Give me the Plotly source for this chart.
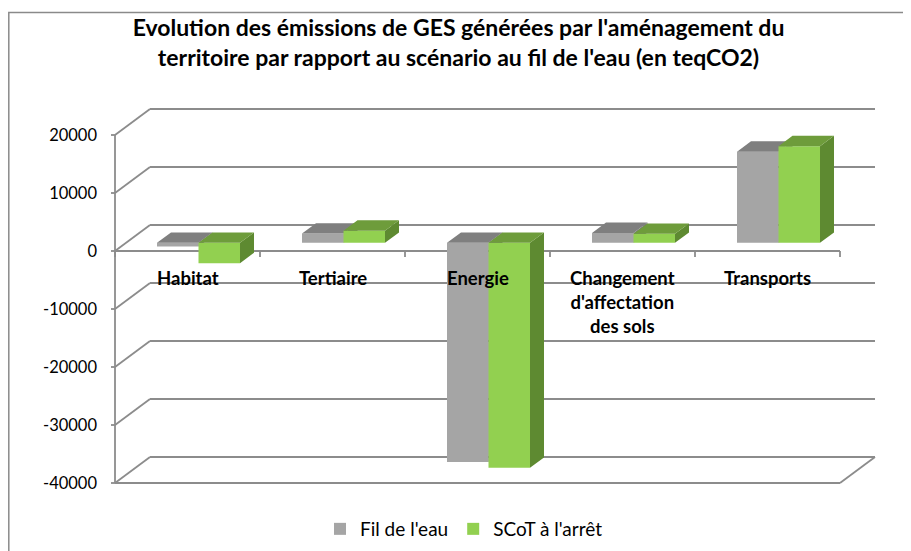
import plotly.graph_objects as go

# ---------------- data ----------------
categories = ["Habitat", "Tertiaire", "Energie",
              "Changement<br>d'affectation<br>des sols", "Transports"]
series_names = ["Fil de l'eau", "SCoT à l'arrêt"]
fil_de_leau = [-650, 1600, -37800, 1700, 15700]
scot_arret = [-3500, 2100, -38800, 1550, 16650]
y_ticks = [20000, 10000, 0, -10000, -20000, -30000, -40000]

title_text = ("Evolution des émissions de GES générées par l'aménagement du<br>"
              "territoire par rapport au scénario au fil de l'eau (en teqCO2)")

# ---------------- geometry (pixels, page coordinates) ----------------
W, H = 911, 551
PAGE = 8  # default body margin of the html page
front_left_px = 115 - PAGE
slot_px = 145
px_per_val = 0.0058
zero_px = 251 - PAGE
wall_dx_px, wall_dy_px = 35, 26
plot_l, plot_r, plot_t, plot_b = 106 - PAGE, 880 - PAGE, 104 - PAGE, 489 - PAGE
bar_w_px = 41.5
bar_front_px = 11     # depth offset of bar front face (x px)
bar_depth_px = 14     # depth of bar (x px)

n = len(categories)
xmin = -0.5 - (front_left_px - plot_l) / slot_px
xmax = -0.5 + (plot_r - front_left_px) / slot_px
ymax = (zero_px - plot_t) / px_per_val
ymin = -(plot_b - zero_px) / px_per_val

Dx = wall_dx_px / slot_px
Dy = wall_dy_px / px_per_val
ratio = wall_dy_px / wall_dx_px
bw = bar_w_px / slot_px
bfx = bar_front_px / slot_px
bfy = bar_front_px * ratio / px_per_val
bdx = bar_depth_px / slot_px
bdy = bar_depth_px * ratio / px_per_val

colors = {
    "front": ["#a5a5a5", "#92d050"],
    "top": ["#7f7f7f", "#6e9c3b"],
    "side": ["#7a7a7a", "#5e8a31"],
}

fig = go.Figure()

series = [fil_de_leau, scot_arret]
for s, vals in enumerate(series):
    xa = "x" if s == 0 else "x2"
    ya = "y" if s == 0 else "y2"
    lefts = [i + bfx - bw + s * bw for i in range(n)]
    centers = [l + bw / 2 for l in lefts]
    fig.add_trace(go.Bar(
        x=centers, y=vals, base=[bfy] * n, width=[bw] * n,
        marker=dict(color=colors["front"][s], line=dict(width=0)),
        name=series_names[s], xaxis=xa, yaxis=ya, hoverinfo="skip",
    ))
    tx, ty, sx, sy = [], [], [], []
    for l, v in zip(lefts, vals):
        r = l + bw
        top = bfy + max(v, 0)
        bot = bfy + min(v, 0)
        tx += [l, r, r + bdx, l + bdx, l, None]
        ty += [top, top, top + bdy, top + bdy, top, None]
        sx += [r, r, r + bdx, r + bdx, r, None]
        sy += [bot, top, top + bdy, bot + bdy, bot, None]
    fig.add_trace(go.Scatter(x=sx, y=sy, mode="lines", fill="toself",
                             fillcolor=colors["side"][s], line=dict(width=0),
                             showlegend=False, hoverinfo="skip", xaxis=xa, yaxis=ya))
    fig.add_trace(go.Scatter(x=tx, y=ty, mode="lines", fill="toself",
                             fillcolor=colors["top"][s], line=dict(width=0),
                             showlegend=False, hoverinfo="skip", xaxis=xa, yaxis=ya))

# ---------------- walls / gridlines ----------------
grid_col = "#8c8c8c"
lw = 1.8
shapes = []
def ln(x0, y0, x1, y1, col=grid_col, w=lw):
    shapes.append(dict(type="line", xref="x", yref="y", x0=x0, y0=y0, x1=x1, y1=y1,
                       line=dict(color=col, width=w), layer="below"))

x_front_l = -0.5
x_front_r = n - 0.5
tick_out = 4 / slot_px
for v in y_ticks:
    ln(x_front_l + Dx, v + Dy, x_front_r + Dx, v + Dy)        # back wall gridline
    ln(x_front_l, v, x_front_l + Dx, v + Dy)                  # side wall diagonal
    ln(x_front_l - tick_out, v, x_front_l, v)                 # tick mark
ln(x_front_l, min(y_ticks), x_front_l, max(y_ticks))          # front vertical axis
ln(x_front_l, min(y_ticks), x_front_r, min(y_ticks))          # floor front edge
ln(x_front_r, min(y_ticks), x_front_r + Dx, min(y_ticks) + Dy)  # floor right edge
ln(x_front_l, 0, x_front_r, 0)                                # category axis
cat_tick = 6 / px_per_val
for k in range(n + 1):
    ln(x_front_l + k, 0, x_front_l + k, -cat_tick)

# chart-area border
pw, ph = plot_r - plot_l, plot_b - plot_t
shapes.append(dict(type="rect", xref="paper", yref="paper",
                   x0=(0.8 - plot_l) / pw, y0=-0.3, x1=1.3,
                   y1=1 + (plot_t - (12.5 - PAGE)) / ph,
                   line=dict(color="#8a8a8a", width=1.5), layer="below"))

# ---------------- category labels ----------------
annotations = []
for i, c in enumerate(categories):
    annotations.append(dict(x=i, y=0, xref="x", yref="y", text="<b>" + c + "</b>",
                            showarrow=False, yanchor="top", xanchor="center",
                            yshift=-14, align="center",
                            font=dict(family="Lato", size=18.5, color="#000000")))

fig.update_layout(
    width=W, height=H,
    margin=dict(l=plot_l, r=W - plot_r, t=plot_t, b=H - plot_b, pad=0),
    paper_bgcolor="white", plot_bgcolor="rgba(0,0,0,0)",
    barmode="overlay",
    font=dict(family="Lato", size=17, color="#000000"),
    title=dict(text="<b>" + title_text + "</b>", x=0.5 - (PAGE / 2 + 1) / W, xanchor="center",
               xref="container", y=1 - (36 - PAGE) / H, yanchor="middle", yref="container",
               font=dict(family="Lato", size=23, color="#000000")),
    xaxis=dict(range=[xmin, xmax], visible=False, fixedrange=True),
    xaxis2=dict(range=[xmin, xmax], visible=False, overlaying="x", matches="x"),
    yaxis=dict(range=[ymin, ymax], tickvals=y_ticks, ticktext=[str(v) for v in y_ticks],
               showgrid=False, zeroline=False, showline=False, ticks="",
               ticklabelstandoff=8, tickfont=dict(family="Lato", size=16.5, color="#000000")),
    yaxis2=dict(range=[ymin, ymax], visible=False, overlaying="y", matches="y",
                showgrid=False, zeroline=False),
    legend=dict(orientation="h", x=(464 - PAGE) / W, xanchor="center", xref="container",
                y=1 - (529 - PAGE) / H, yref="container",
                yanchor="middle", font=dict(family="Lato", size=19, color="#000000"),
                bgcolor="rgba(0,0,0,0)"),
    shapes=shapes, annotations=annotations,
    showlegend=True,
)

fig.write_html("out.html")
